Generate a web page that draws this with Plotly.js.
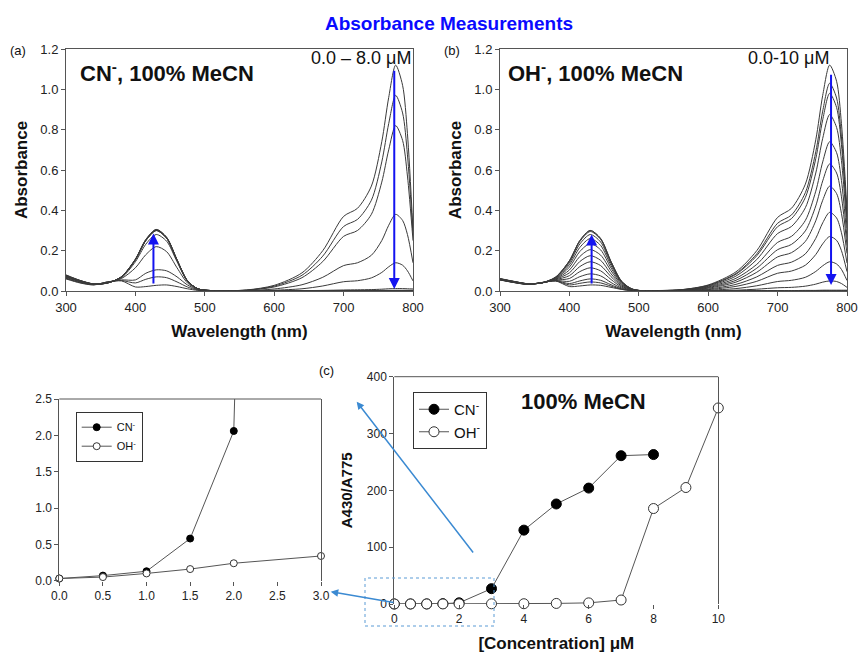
<!DOCTYPE html>
<html><head><meta charset="utf-8">
<script src="https://cdn.plot.ly/plotly-3.0.1.min.js"></script>
<style>html,body{margin:0;padding:0;background:#fff}#chart{width:858px;height:654px}</style>
</head><body><div id="chart"></div>
<script>
// ---------------- data ----------------
const wavelength = [300,320,340,360,380,400,415,430,445,460,475,490,510,560,600,640,670,700,720,740,755,765,775,785,792,800];

// (a) CN- titration spectra, 0 -> 8.0 uM
const cnSpectra = [
 [0.060,0.040,0.030,0.045,0.050,0.020,0.022,0.028,0.030,0.022,0.011,0.003,0.001,0.005,0.028,0.090,0.200,0.370,0.410,0.520,0.740,0.960,1.120,1.020,0.780,0.300],
 [0.062,0.042,0.031,0.045,0.052,0.040,0.058,0.070,0.066,0.045,0.020,0.005,0.002,0.004,0.024,0.078,0.173,0.320,0.355,0.450,0.640,0.830,0.970,0.883,0.675,0.280],
 [0.064,0.044,0.032,0.045,0.055,0.055,0.088,0.105,0.100,0.070,0.030,0.007,0.002,0.004,0.020,0.066,0.146,0.271,0.300,0.380,0.540,0.700,0.820,0.747,0.570,0.250],
 [0.068,0.046,0.033,0.042,0.062,0.115,0.180,0.220,0.195,0.115,0.040,0.009,0.001,0.002,0.010,0.031,0.068,0.126,0.140,0.177,0.250,0.326,0.380,0.350,0.280,0.140],
 [0.070,0.048,0.033,0.041,0.066,0.145,0.232,0.280,0.247,0.145,0.048,0.010,0.001,0.001,0.004,0.011,0.025,0.046,0.051,0.065,0.092,0.120,0.140,0.128,0.100,0.050],
 [0.072,0.049,0.033,0.040,0.070,0.155,0.250,0.300,0.262,0.152,0.050,0.011,0.002,0.001,0.001,0.002,0.003,0.005,0.006,0.007,0.009,0.011,0.012,0.012,0.011,0.010],
 [0.074,0.050,0.034,0.040,0.071,0.158,0.255,0.305,0.266,0.155,0.051,0.011,0.002,0.001,0.001,0.001,0.002,0.002,0.002,0.003,0.003,0.003,0.003,0.003,0.003,0.003],
 [0.076,0.051,0.034,0.040,0.071,0.158,0.255,0.305,0.266,0.155,0.051,0.011,0.002,0.001,0.001,0.001,0.001,0.002,0.002,0.002,0.002,0.002,0.003,0.003,0.003,0.003],
 [0.078,0.052,0.035,0.040,0.070,0.156,0.252,0.302,0.264,0.154,0.050,0.011,0.002,0.001,0.001,0.001,0.001,0.002,0.002,0.002,0.002,0.002,0.002,0.002,0.002,0.002],
 [0.080,0.053,0.035,0.040,0.070,0.155,0.250,0.300,0.262,0.152,0.050,0.011,0.002,0.001,0.001,0.001,0.001,0.002,0.002,0.002,0.002,0.002,0.002,0.002,0.002,0.002],
 [0.077,0.052,0.035,0.040,0.070,0.155,0.250,0.300,0.262,0.152,0.050,0.011,0.002,0.001,0.001,0.001,0.001,0.001,0.001,0.002,0.002,0.002,0.002,0.002,0.002,0.002]
];

// (b) OH- titration spectra, 0 -> 10 uM
const ohSpectra = [
 [0.055,0.042,0.033,0.042,0.050,0.022,0.025,0.030,0.028,0.018,0.008,0.002,0.002,0.006,0.030,0.095,0.200,0.365,0.410,0.530,0.750,0.970,1.120,1.040,0.830,0.400],
 [0.055,0.042,0.033,0.042,0.050,0.030,0.038,0.045,0.040,0.024,0.009,0.002,0.002,0.006,0.028,0.087,0.184,0.336,0.377,0.488,0.690,0.892,1.030,0.957,0.764,0.368],
 [0.056,0.043,0.033,0.041,0.051,0.037,0.050,0.060,0.053,0.031,0.011,0.003,0.002,0.005,0.026,0.083,0.175,0.319,0.359,0.464,0.656,0.849,0.980,0.910,0.726,0.350],
 [0.056,0.043,0.034,0.041,0.052,0.048,0.071,0.085,0.075,0.042,0.015,0.003,0.002,0.005,0.023,0.074,0.156,0.285,0.320,0.413,0.585,0.757,0.875,0.811,0.647,0.312],
 [0.057,0.044,0.034,0.041,0.054,0.062,0.096,0.115,0.100,0.057,0.020,0.004,0.001,0.004,0.020,0.063,0.132,0.241,0.271,0.350,0.495,0.640,0.740,0.686,0.548,0.264],
 [0.057,0.044,0.034,0.040,0.056,0.076,0.121,0.145,0.126,0.071,0.025,0.005,0.001,0.003,0.017,0.053,0.113,0.205,0.231,0.298,0.422,0.546,0.630,0.585,0.467,0.225],
 [0.058,0.045,0.035,0.040,0.058,0.090,0.146,0.175,0.152,0.085,0.030,0.006,0.001,0.003,0.014,0.044,0.093,0.169,0.190,0.246,0.348,0.450,0.520,0.483,0.385,0.186],
 [0.058,0.045,0.035,0.040,0.060,0.104,0.171,0.205,0.178,0.100,0.034,0.007,0.001,0.002,0.010,0.033,0.070,0.127,0.143,0.184,0.261,0.338,0.390,0.362,0.289,0.139],
 [0.059,0.046,0.035,0.040,0.062,0.118,0.196,0.235,0.204,0.114,0.039,0.008,0.001,0.001,0.007,0.023,0.048,0.088,0.099,0.128,0.181,0.234,0.270,0.251,0.200,0.096],
 [0.059,0.046,0.035,0.040,0.064,0.130,0.216,0.260,0.226,0.126,0.043,0.009,0.000,0.001,0.004,0.012,0.026,0.047,0.053,0.068,0.097,0.125,0.145,0.134,0.107,0.052],
 [0.060,0.047,0.036,0.040,0.066,0.140,0.233,0.280,0.243,0.136,0.046,0.010,0.000,0.000,0.001,0.004,0.009,0.016,0.018,0.024,0.034,0.044,0.050,0.047,0.037,0.018],
 [0.060,0.047,0.036,0.040,0.068,0.147,0.245,0.295,0.256,0.143,0.048,0.010,0.000,0.000,0.001,0.001,0.002,0.002,0.002,0.003,0.003,0.004,0.004,0.004,0.004,0.004],
 [0.061,0.047,0.036,0.040,0.068,0.150,0.250,0.300,0.260,0.145,0.049,0.010,0.000,0.000,0.000,0.001,0.001,0.001,0.001,0.002,0.002,0.002,0.002,0.002,0.002,0.002],
 [0.062,0.048,0.036,0.040,0.069,0.150,0.250,0.300,0.260,0.146,0.049,0.010,0.000,0.000,0.000,0.001,0.001,0.001,0.001,0.001,0.001,0.002,0.002,0.002,0.002,0.002]
];

// (c) ratio A430/A775 vs concentration
const cnConc  = [0,0.5,1,1.5,2,3,4,5,6,7,8];
const cnRatio = [0.03,0.07,0.13,0.58,2.06,27,130,176,204,261,263];
const ohConc  = [0,0.5,1,1.5,2,3,4,5,6,7,8,9,10];
const ohRatio = [0.03,0.05,0.10,0.16,0.24,0.34,0.5,1.0,2,7,168,205,345];
const seriesNames = ['CN<sup>-</sup>','OH<sup>-</sup>'];

// ---------------- layout helpers ----------------
const FW = 858, FH = 654;
const px = p => p / FW;
const py = p => 1 - p / FH;
const FONT = 'Liberation Sans, Arial, Helvetica, sans-serif';
const AXC = '#555';

const traces = [];
const specLine = {color:'#3a3a3a', width:1, shape:'spline', smoothing:0.8};
cnSpectra.forEach(s => traces.push({type:'scatter', mode:'lines', x:wavelength, y:s, xaxis:'x', yaxis:'y', line:specLine, showlegend:false, hoverinfo:'skip'}));
ohSpectra.forEach(s => traces.push({type:'scatter', mode:'lines', x:wavelength, y:s, xaxis:'x2', yaxis:'y2', line:specLine, showlegend:false, hoverinfo:'skip'}));

function ratioTrace(x, y, name, xa, ya, leg, size, filled) {
  return {type:'scatter', mode:'lines+markers', x:x, y:y, name:name, xaxis:xa, yaxis:ya, legend:leg,
    cliponaxis:false,
    line:{color:'#555', width:1},
    marker:{symbol:'circle', size:size, color: filled ? '#000' : '#fff', line:{color: filled ? '#000' : '#333', width:1}}};
}
traces.push(ratioTrace(cnConc, cnRatio, seriesNames[0], 'x3', 'y3', 'legend', 7, true));
traces.push(ratioTrace(ohConc, ohRatio, seriesNames[1], 'x3', 'y3', 'legend', 7, false));
traces.push(ratioTrace(cnConc, cnRatio, seriesNames[0], 'x4', 'y4', 'legend2', 10, true));
traces.push(ratioTrace(ohConc, ohRatio, seriesNames[1], 'x4', 'y4', 'legend2', 10, false));

const base = {showline:true, linecolor:AXC, linewidth:1, ticks:'outside', ticklen:4, tickwidth:1, tickcolor:AXC,
  showgrid:false, zeroline:false, fixedrange:true, tickfont:{family:FONT, size:13, color:'#222'}};
const titleFont = s => ({family:FONT, size:s, color:'#111'});
const smallTick = {family:FONT, size:12, color:'#222'};

const layout = {
  width:FW, height:FH, margin:{l:0,r:0,t:0,b:0},
  paper_bgcolor:'#fff', plot_bgcolor:'#fff', hovermode:false,
  font:{family:FONT, color:'#111'},
  title:{text:'<b>Absorbance Measurements</b>', x:px(449), xanchor:'center', y:py(23), yanchor:'middle',
         font:{family:FONT, size:19, color:'#0a0aff'}},
  xaxis: Object.assign({}, base, {domain:[px(66),px(413)], range:[300,800], tick0:300, dtick:100, mirror:true, anchor:'y',
         title:{text:'<b>Wavelength (nm)</b>', font:titleFont(17), standoff:11}}),
  yaxis: Object.assign({}, base, {domain:[py(291),py(49)], range:[0,1.2], dtick:0.2, tickformat:'.1f', mirror:true, anchor:'x',
         title:{text:'<b>Absorbance</b>', font:titleFont(17), standoff:8}}),
  xaxis2: Object.assign({}, base, {domain:[px(500),px(847)], range:[300,800], tick0:300, dtick:100, mirror:true, anchor:'y2',
         title:{text:'<b>Wavelength (nm)</b>', font:titleFont(17), standoff:11}}),
  yaxis2: Object.assign({}, base, {domain:[py(291),py(49)], range:[0,1.2], dtick:0.2, tickformat:'.1f', mirror:true, anchor:'x2',
         title:{text:'<b>Absorbance</b>', font:titleFont(17), standoff:8}}),
  xaxis3: Object.assign({}, base, {domain:[px(59.3),px(321)], range:[0,3], dtick:0.5, tickformat:'.1f', showline:false, anchor:'y3',
         tickfont:smallTick}),
  yaxis3: Object.assign({}, base, {domain:[py(580.7),py(399)], range:[0,2.5], dtick:0.5, tickformat:'.1f', mirror:true, anchor:'x3',
         tickfont:smallTick}),
  xaxis4: Object.assign({}, base, {domain:[px(394.3),px(718.3)], range:[0,10], dtick:2, showline:false, anchor:'y4',
         tickfont:smallTick,
         title:{text:'<b>[Concentration] μM</b>', font:titleFont(17), standoff:11}}),
  yaxis4: Object.assign({}, base, {domain:[py(604),py(376.7)], range:[0,400], dtick:100, mirror:true, anchor:'x4',
         tickfont:smallTick,
         title:{text:'<b>A430/A775</b>', font:titleFont(15), standoff:10}}),
  legend: {x:px(75.7), y:py(411.7), xanchor:'left', yanchor:'top', bgcolor:'#fff', bordercolor:'#333', borderwidth:1,
           font:{family:FONT, size:11, color:'#111'}, tracegroupgap:0},
  legend2: {x:px(413), y:py(392), xanchor:'left', yanchor:'top', bgcolor:'#fff', bordercolor:'#333', borderwidth:1,
           font:{family:FONT, size:15, color:'#111'}, tracegroupgap:0},
  shapes: [
    {type:'line', xref:'x3 domain', yref:'y3 domain', x0:0, x1:1, y0:1, y1:1, line:{color:AXC, width:1}},
    {type:'line', xref:'x4 domain', yref:'y4 domain', x0:0, x1:1, y0:1, y1:1, line:{color:AXC, width:1}},
    {type:'rect', xref:'paper', yref:'paper', x0:px(365), x1:px(494), y0:py(626), y1:py(578),
     line:{color:'#5b9bd5', width:1, dash:'dot'}}
  ],
  annotations: [
    {xref:'paper', yref:'paper', x:px(18), y:py(50), text:'(a)', showarrow:false, xanchor:'center', yanchor:'middle', font:{family:FONT,size:13,color:'#111'}},
    {xref:'paper', yref:'paper', x:px(452), y:py(50), text:'(b)', showarrow:false, xanchor:'center', yanchor:'middle', font:{family:FONT,size:13,color:'#111'}},
    {xref:'paper', yref:'paper', x:px(326), y:py(370), text:'(c)', showarrow:false, xanchor:'center', yanchor:'middle', font:{family:FONT,size:13,color:'#111'}},
    {xref:'paper', yref:'paper', x:px(78), y:py(72), text:'<b>CN<sup>-</sup>, 100% MeCN</b>', showarrow:false, xanchor:'left', yanchor:'middle', font:{family:FONT,size:22,color:'#111'}},
    {xref:'paper', yref:'paper', x:px(413), y:py(58), text:'0.0 – 8.0 μM', showarrow:false, xanchor:'right', yanchor:'middle', font:{family:FONT,size:18,color:'#111'}},
    {xref:'paper', yref:'paper', x:px(506), y:py(72), text:'<b>OH<sup>-</sup>, 100% MeCN</b>', showarrow:false, xanchor:'left', yanchor:'middle', font:{family:FONT,size:22,color:'#111'}},
    {xref:'paper', yref:'paper', x:px(831), y:py(58), text:'0.0-10 μM', showarrow:false, xanchor:'right', yanchor:'middle', font:{family:FONT,size:18,color:'#111'}},
    {xref:'paper', yref:'paper', x:px(583), y:py(401), text:'<b>100% MeCN</b>', showarrow:false, xanchor:'center', yanchor:'middle', font:{family:FONT,size:22,color:'#111'}},
    // titration direction arrows
    {xref:'x', yref:'y', axref:'x', ayref:'y', x:426, y:0.285, ax:426, ay:0.03, text:'', showarrow:true, arrowhead:2, arrowsize:1.1, arrowwidth:2, arrowcolor:'#1414f0'},
    {xref:'x', yref:'y', axref:'x', ayref:'y', x:773, y:0.01, ax:773, ay:1.10, text:'', showarrow:true, arrowhead:2, arrowsize:1.1, arrowwidth:2, arrowcolor:'#1414f0'},
    {xref:'x2', yref:'y2', axref:'x2', ayref:'y2', x:432, y:0.28, ax:432, ay:0.03, text:'', showarrow:true, arrowhead:2, arrowsize:1.1, arrowwidth:2, arrowcolor:'#1414f0'},
    {xref:'x2', yref:'y2', axref:'x2', ayref:'y2', x:777, y:0.03, ax:777, ay:1.08, text:'', showarrow:true, arrowhead:2, arrowsize:1.1, arrowwidth:2, arrowcolor:'#1414f0'},
    // zoom-in pointer arrows
    {xref:'paper', yref:'paper', x:px(356.7), y:py(401.7), ax:117.6, ay:152.3, text:'', showarrow:true, arrowhead:2, arrowsize:1, arrowwidth:1.5, arrowcolor:'#3b8ad2'},
    {xref:'paper', yref:'paper', x:px(330.7), y:py(591.7), ax:64.3, ay:11, text:'', showarrow:true, arrowhead:2, arrowsize:1, arrowwidth:1.5, arrowcolor:'#3b8ad2'}
  ]
};

Plotly.newPlot('chart', traces, layout, {staticPlot:true, displayModeBar:false});
</script>
</body></html>
